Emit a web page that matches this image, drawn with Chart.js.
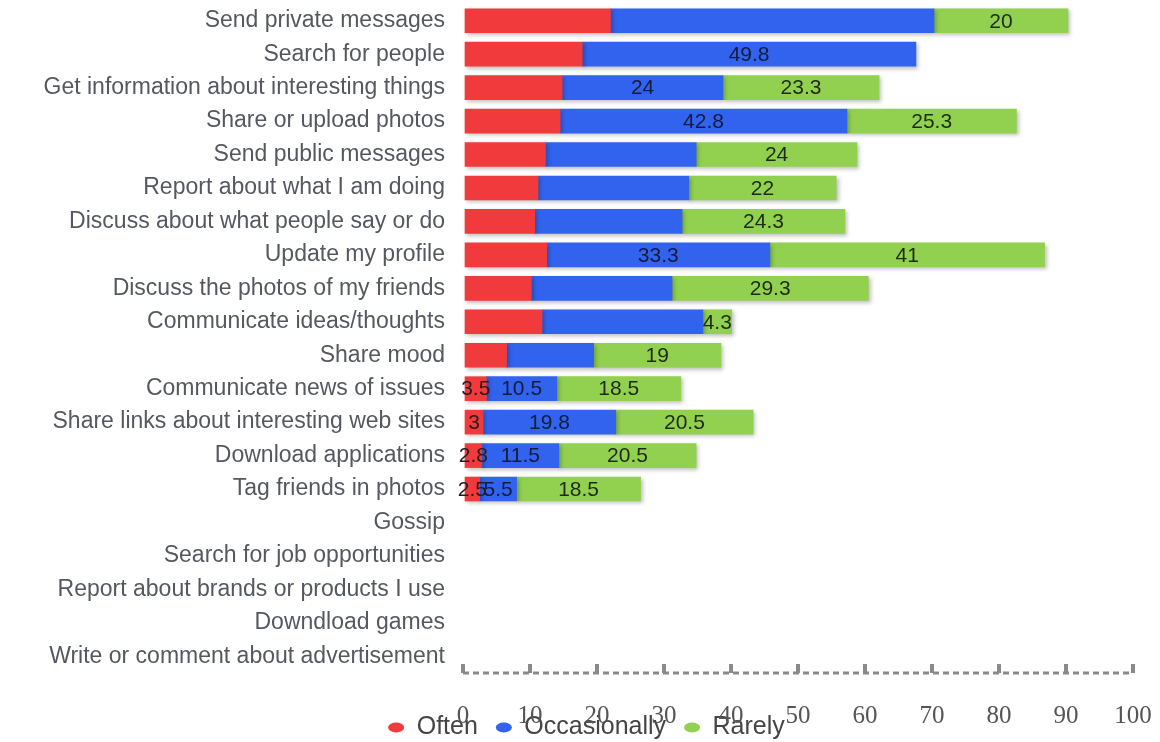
<!DOCTYPE html>
<html>
<head>
<meta charset="utf-8">
<title>Social network activities</title>
<script src="https://cdn.jsdelivr.net/npm/chart.js@4.4.1/dist/chart.umd.min.js"></script>
<style>
  html, body { margin: 0; padding: 0; background: #fff; }
  .chart-wrap { width: 1160px; height: 742px; position: relative; }
</style>
</head>
<body>
<div class="chart-wrap"><canvas id="activityChart"></canvas></div>
<script>
// Activities, top to bottom
const categories = [
  'Send private messages',
  'Search for people',
  'Get information about interesting things',
  'Share or upload photos',
  'Send public messages',
  'Report about what I am doing',
  'Discuss about what people say or do',
  'Update my profile',
  'Discuss the photos of my friends',
  'Communicate ideas/thoughts',
  'Share mood',
  'Communicate news of issues',
  'Share links about interesting web sites',
  'Download applications',
  'Tag friends in photos',
  'Gossip',
  'Search for job opportunities',
  'Report about brands or products I use',
  'Downdload games',
  'Write or comment about advertisement'
];

// percentages per answer
const oftenValues        = [22, 17.8, 14.8, 14.5, 12.3, 11.2, 10.7, 12.5, 10.2, 11.8, 6.5, 3.5, 3, 2.8, 2.5, null, null, null, null, null];
const occasionallyValues = [48.3, 49.8, 24, 42.8, 22.5, 22.5, 22, 33.3, 21, 24, 13, 10.5, 19.8, 11.5, 5.5, null, null, null, null, null];
const rarelyValues       = [20, null, 23.3, 25.3, 24, 22, 24.3, 41, 29.3, 4.3, 19, 18.5, 20.5, 20.5, 18.5, null, null, null, null, null];

// which values get a number printed on the bar
const printedOften        = [0,0,0,0,0,0,0,0,0,0,0,1,1,1,1,0,0,0,0,0];
const printedOccasionally = [0,1,1,1,0,0,0,1,0,0,0,1,1,1,1,0,0,0,0,0];
const printedRarely       = [1,0,1,1,1,1,1,1,1,1,1,1,1,1,1,0,0,0,0,0];

const tickLabels = ['0', '10', '20', '30', '40', '50', '60', '70', '80', '90', '100'];

const narrowFont = '"Liberation Sans Narrow", "Arial Narrow", "Liberation Sans", sans-serif';

// soft shadow under the bars + value text in the middle of each segment
const barDecorations = {
  id: 'barDecorations',
  beforeDatasetsDraw(chart) {
    const ctx = chart.ctx;
    ctx.save();
    ctx.shadowColor = 'rgba(0, 0, 0, 0.25)';
    ctx.shadowBlur = 4;
    ctx.shadowOffsetX = 2;
    ctx.shadowOffsetY = 2;
  },
  afterDatasetsDraw(chart) {
    const ctx = chart.ctx;
    ctx.restore();
    ctx.save();
    ctx.font = '21px ' + narrowFont;
    ctx.textAlign = 'center';
    ctx.textBaseline = 'middle';
    chart.data.datasets.forEach((ds, di) => {
      const meta = chart.getDatasetMeta(di);
      meta.data.forEach((bar, i) => {
        const v = ds.data[i];
        if (v == null || !ds.printed[i]) return;
        const { x, base, y } = bar.getProps(['x', 'base', 'y'], true);
        ctx.fillStyle = ds.labelColor;
        ctx.fillText(String(v), (x + base) / 2, y + 1);
      });
    });
    ctx.restore();
  }
};

// dashed value axis line (chart.js border has no dash of its own)
const dashedAxis = {
  id: 'dashedAxis',
  afterDraw(chart) {
    const x = chart.scales.x;
    const ctx = chart.ctx;
    ctx.save();
    ctx.strokeStyle = '#8a8a8a';
    ctx.lineWidth = 3;
    ctx.setLineDash([6, 4]);
    ctx.beginPath();
    ctx.moveTo(x.getPixelForValue(0), x.top);
    ctx.lineTo(x.getPixelForValue(100), x.top);
    ctx.stroke();
    ctx.restore();
  }
};

// let the x tick labels and the legend share the strip under the axis
const bottomStrip = {
  id: 'bottomStrip',
  afterLayout(chart) {
    chart.scales.x.bottom = chart.height;
    const legend = chart.legend;
    legend.top += 8;
    legend.bottom += 8;
    legend.left += 20;
    legend.right += 20;
  }
};

const ctx = document.getElementById('activityChart');
new Chart(ctx, {
  type: 'bar',
  data: {
    labels: categories,
    datasets: [
      {
        label: 'Often',
        data: oftenValues,
        printed: printedOften,
        backgroundColor: '#f03a3c',
        labelColor: '#2a1a1a',
        barThickness: 24
      },
      {
        label: 'Occasionally',
        data: occasionallyValues,
        printed: printedOccasionally,
        backgroundColor: '#3163ef',
        labelColor: '#141c3c',
        barThickness: 24
      },
      {
        label: 'Rarely',
        data: rarelyValues,
        printed: printedRarely,
        backgroundColor: '#92d050',
        labelColor: '#1e2a14',
        barThickness: 24
      }
    ]
  },
  options: {
    indexAxis: 'y',
    responsive: true,
    maintainAspectRatio: false,
    animation: false,
    layout: { padding: { top: 4, right: 27, left: 0, bottom: 0 } },
    scales: {
      x: {
        stacked: true,
        min: 0,
        max: 100,
        afterFit: (scale) => {
          scale.height = 16;
          scale.paddingLeft = 0;
          scale.paddingRight = 0;
        },
        ticks: {
          stepSize: 10,
          padding: 37,
          color: '#555',
          font: { family: '"Liberation Serif", "Times New Roman", serif', size: 25 },
          callback: (value) => tickLabels[value / 10]
        },
        grid: {
          display: true,
          drawOnChartArea: false,
          drawTicks: true,
          tickLength: -9,
          color: '#8a8a8a',
          lineWidth: 4
        },
        border: { display: false }
      },
      y: {
        stacked: true,
        afterFit: (scale) => {
          scale.width = 463;
          scale.paddingTop = 0;
          scale.paddingBottom = 0;
        },
        ticks: {
          autoSkip: false,
          padding: 10,
          color: '#55595f',
          font: { family: '"Liberation Sans", Arial, sans-serif', size: 23 }
        },
        grid: { display: false },
        border: { display: false }
      }
    },
    plugins: {
      legend: {
        position: 'bottom',
        labels: {
          usePointStyle: true,
          pointStyle: 'circle',
          boxHeight: 7,
          pointStyleWidth: 16,
          padding: 18,
          color: '#444',
          font: { family: narrowFont, size: 25 }
        }
      },
      tooltip: { enabled: false }
    }
  },
  plugins: [barDecorations, dashedAxis, bottomStrip]
});
</script>
</body>
</html>
